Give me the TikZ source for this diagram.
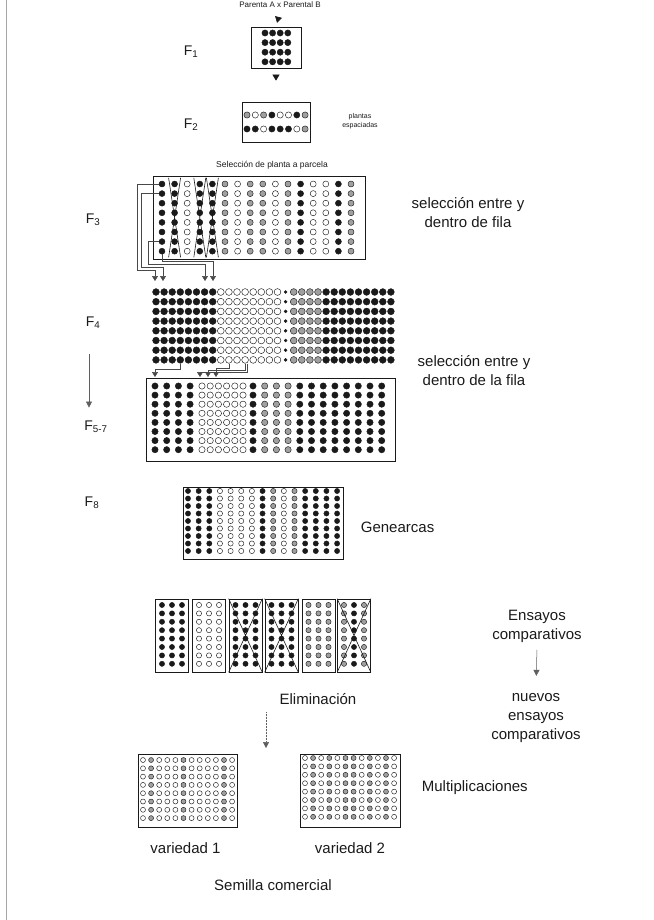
\documentclass[tikz,border=0pt]{standalone}
\usepackage{fontspec}
\setmainfont{Liberation Sans}
\usetikzlibrary{arrows.meta,positioning,calc}
\definecolor{ink}{HTML}{1A1A1A}
\definecolor{seedgrey}{HTML}{A0A0A0}
\tikzset{
  >=Latex,
  every node/.style={text=ink},
  plotbox/.style={draw=ink,line width=.7pt,inner sep=0pt},
  seed/.style={circle,draw=ink,line width=.45pt,inner sep=0pt,minimum size=\seedsz,seed #1},
  seed b/.style={fill=ink},
  seed o/.style={fill=white},
  seed g/.style={fill=seedgrey},
  seed s/.style={fill=ink,minimum size=3pt},
  gen/.style={font=\fontsize{14}{16}\selectfont},
  caption/.style={font=\fontsize{15}{19}\selectfont,align=center},
  tiny/.style={font=\fontsize{7}{9}\selectfont,align=center},
  tip/.style={-{Triangle[length=6pt,width=7pt]},line width=.6pt,draw=ink},
  link/.style={-{Triangle[length=5pt,width=6pt]},line width=.5pt,draw=ink!80},
  thinarrow/.style={-{Triangle[length=6pt,width=6pt]},line width=.5pt,draw=ink!70},
  cross/.style={line width=.6pt,draw=ink},
}
% name, x0, y0, dx, dy, rows, size, column kinds
\newcommand\seedplot[8]{%
  \def\seedsz{#7}%
  \foreach \t [count=\c] in {#8}{%
    \foreach \r in {1,...,#6}{%
      \node[seed/.expanded=\t] (#1-\c-\r) at ({#2+(\c-1)*#4},{#3+(\r-1)*#5}) {};
    }%
  }%
}

\begin{document}
\begin{tikzpicture}[x=1pt,y=-1pt]
\useasboundingbox (0,0) rectangle (653,920);
\draw[gray!70,line width=.8pt] (6,0) -- (6,920);

% F1 and F2
\node[tiny,font=\fontsize{8}{9}\selectfont] (parents) at (280,5) {Parenta A x Parental B};
\node[plotbox,minimum width=50,minimum height=41] (f1) at (276,47.5) {};
\seedplot{f1d}{265}{33}{7.6}{9.6}{4}{6.2pt}{b,b,b,b}
\node[gen] (f1lab) at (191,52) {F\textsubscript{1}};
\draw[tip,shorten <=6pt,shorten >=4pt] (parents.south) -- (f1.north);

\node[plotbox,minimum width=68,minimum height=40] (f2) at (276,122) {};
\seedplot{f2a}{247}{115}{8.3}{0}{1}{6.2pt}{g,o,g,b,o,o,b,g}
\seedplot{f2b}{247}{129}{8.3}{0}{1}{6.2pt}{b,b,o,b,b,b,o,g}
\node[gen] (f2lab) at (191,125) {F\textsubscript{2}};
\node[tiny] (spaced) at (360,121) {plantas\\espaciadas};
\draw[tip,shorten <=7pt,shorten >=21pt] (f1.south) -- (f2.north);

% F3
\node[tiny,font=\fontsize{8.5}{10}\selectfont] (pick) at (272,165) {Selección de planta a parcela};
\node[plotbox,minimum width=212,minimum height=83] (f3) at (259,217.5) {};
\seedplot{f3d}{162}{184}{12.6}{9.6}{8}{6pt}{b,b,o,b,b,g,o,g,g,o,g,b,o,o,b,g}
\foreach \k in {2,4,5}
  \draw[cross] ([xshift=-6pt,yshift=3pt]f3d-\k-1.north) -- ([xshift=6pt,yshift=-3pt]f3d-\k-8.south)
               ([xshift=6pt,yshift=3pt]f3d-\k-1.north) -- ([xshift=-6pt,yshift=-3pt]f3d-\k-8.south);
\node[gen] (f3lab) at (93,220) {F\textsubscript{3}};
\node[caption] (sel1) at (468,213) {selección entre y\\dentro de fila};

% F4
\seedplot{f4d}{156}{292}{8.1}{9.7}{8}{6.8pt}{b,b,b,b,b,b,b,b,o,o,o,o,o,o,o,o,s,g,g,g,g,b,b,b,b,b,b,b,b,b}
\node[gen] (f4lab) at (93,323) {F\textsubscript{4}};

\coordinate (a1) at (155,281);
\coordinate (a2) at (163,281);
\coordinate (a3) at (205,281);
\coordinate (a4) at (213,281);
\draw[link] (f3d-1-1.west) -- ++(-22,0) |- ($(a1)+(0,-11)$) -- (a1);
\draw[link] (f3d-1-2.west) -- ++(-18,0) |- ($(a2)+(0,-14)$) -- (a2);
\draw[link] (f3d-1-7.west) -- ++(-11,0) |- ($(a3)+(0,-17)$) -- (a3);
\draw[link] (f3d-1-8.south) |- ($(a4)+(0,-20)$) -- (a4);

% F5-7
\node[plotbox,minimum width=249,minimum height=83] (f57) at (270.5,419.5) {};
\seedplot{f57a}{155}{386}{11.7}{9.1}{8}{6.3pt}{b,b,b,b}
\seedplot{f57b}{202}{386}{8.2}{9.1}{8}{6.3pt}{o,o,o,o,o,o}
\seedplot{f57c}{253}{386}{11.7}{9.1}{8}{6.3pt}{b,g,g,g,b,b,b,b,b,b,b,b}
\node[gen] (f57lab) at (96,427) {F\textsubscript{5-7}};
\node[caption] (sel2) at (474,371) {selección entre y\\dentro de la fila};
\draw[thinarrow,shorten <=22pt,shorten >=10pt] ([xshift=-4pt]f4lab.south) -- ([xshift=-4pt]f4lab.south |- f57lab.north);

\coordinate (b1) at (155,377);
\coordinate (b2) at (200,377);
\coordinate (b3) at (208,377);
\coordinate (b4) at (216,377);
\draw[link] (f4d-4-8.south) |- ($(b1)+(0,-8)$) -- (b1);
\draw[link] (f4d-10-8.south) |- ($(b4)+(0,-9)$) -- (b4);
\draw[link] (f4d-12-8.south) |- ($(b3)+(0,-7)$) -- (b3);
\draw[link] ([xshift=2pt]f4d-12-8.south) |- ($(b2)+(0,-5)$) -- (b2);

% F8
\node[plotbox,minimum width=160,minimum height=72] (f8) at (263,523) {};
\seedplot{f8d}{188}{491}{10.65}{7.5}{9}{5.2pt}{b,b,b,o,o,o,o,b,g,o,g,b,b,b,b}
\node[gen] (f8lab) at (92,503) {F\textsubscript{8}};
\node[caption,right=14pt of f8,yshift=-4pt] (gene) {Genearcas};

% comparative trials
\foreach \x/\kind/\mix [count=\i] in {172/b/b,209/o/o,245.5/b/b,281.5/b/b,318.5/g/g,354/g/b}{
  \node[plotbox,minimum width=33,minimum height=73] (tr\i) at (\x,635.5) {};
  \seedplot{trd\i}{\x-10}{605}{10}{8.4}{8}{5.2pt}{\kind,\mix,\kind}
}
\foreach \b in {3,4,6}
  \draw[cross] (tr\b.north west) -- (tr\b.south east) (tr\b.north east) -- (tr\b.south west);

\node[caption] (ens) at (537,626) {Ensayos\\comparativos};
\node[caption] (nuevos) at (536,718) {nuevos\\ensayos\\comparativos};
\draw[thinarrow,shorten <=4pt,shorten >=14pt] (ens.south) -- (nuevos.north);

\node[caption] (elim) at (318,699) {Eliminación};
\coordinate (elimend) at (266,748);
\draw[thinarrow,densely dotted,shorten <=4pt] (elimend |- elim.south) -- (elimend);

% multiplication
\node[plotbox,minimum width=99,minimum height=73] (v1) at (187.5,790.5) {};
\seedplot{v1d}{143}{760}{8.1}{8.3}{8}{5pt}{o,g,o,o,o,g,o,o,o,o,g,o}
\node[plotbox,minimum width=100,minimum height=73] (v2) at (350,790.5) {};
\seedplot{v2d}{305}{758}{8.1}{8.4}{8}{5pt}{o,g,o,g,o,g,g,o,g,o,g,o}
\node[caption,right=18pt of v2,yshift=3pt] (mult) {Multiplicaciones};
\node[caption,below=12pt of v1,xshift=-2pt] (var1) {variedad 1};
\node[caption,below=12pt of v2] (var2) {variedad 2};
\node[caption] (seed) at (273,885) {Semilla comercial};

\end{tikzpicture}
\end{document}
